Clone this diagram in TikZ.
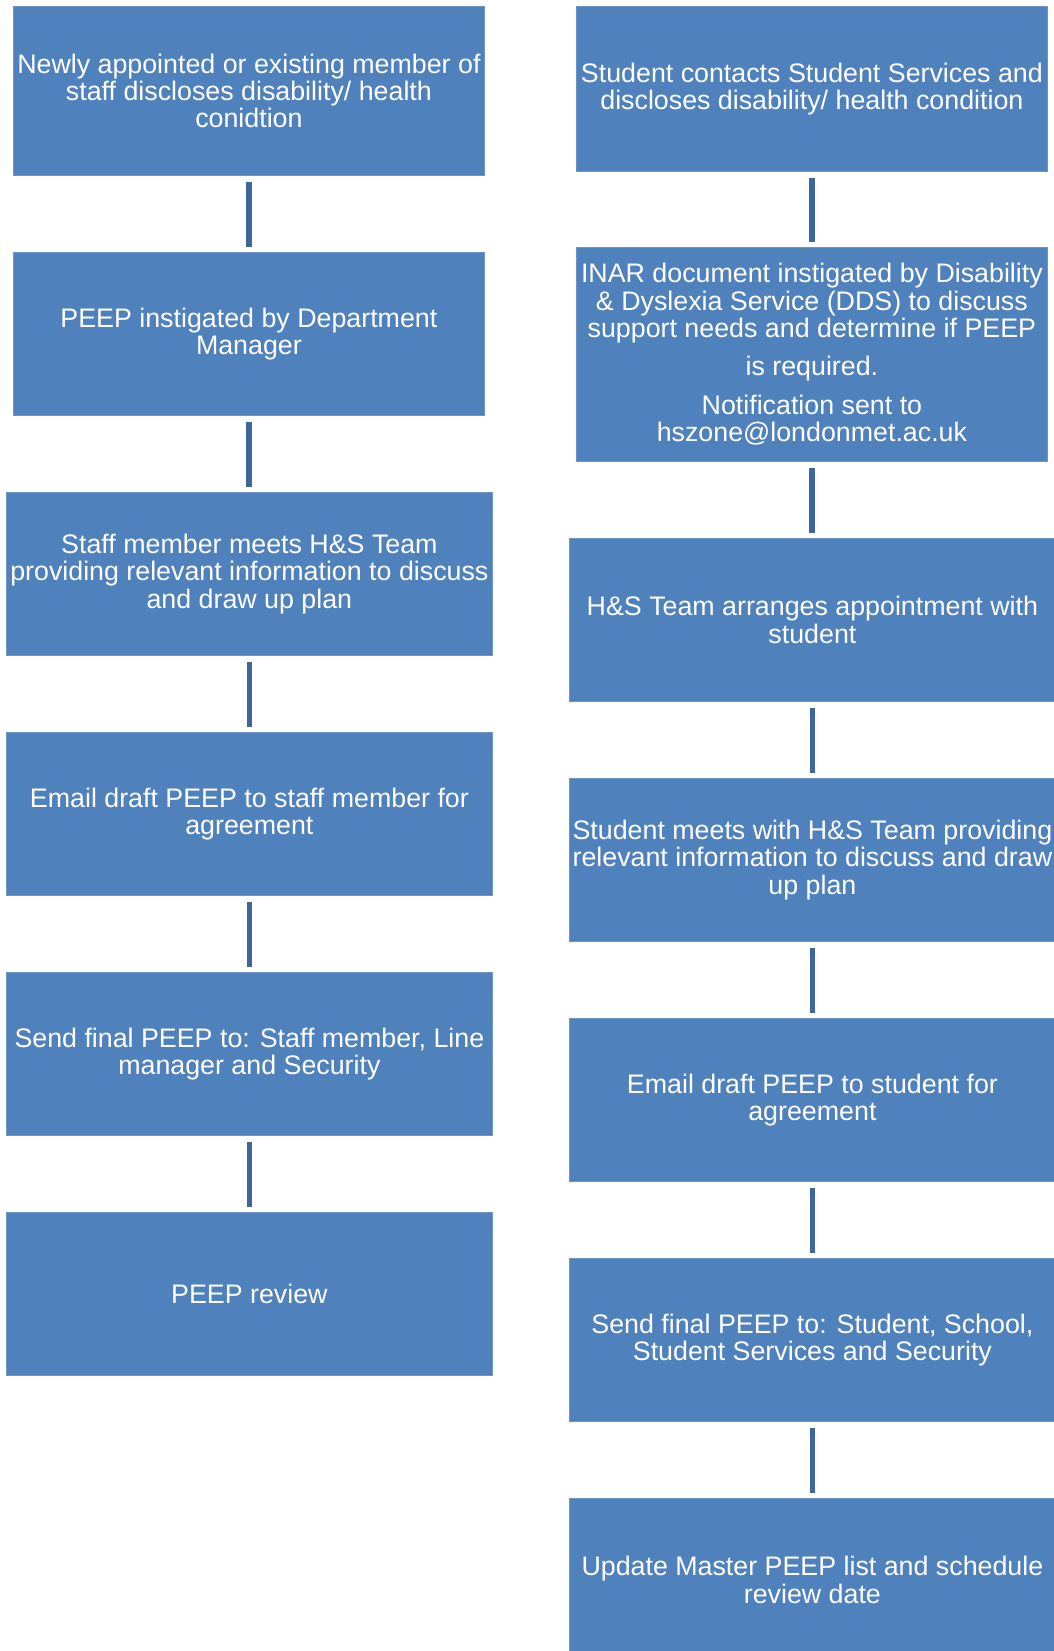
\documentclass[tikz,border=0pt]{standalone}
\usepackage{fontspec}
\setmainfont{Liberation Sans}
\definecolor{boxfill}{HTML}{4F81BD}
\definecolor{boxedge}{HTML}{6E93C6}
\definecolor{linkcol}{HTML}{3D679B}
\begin{document}
\begin{tikzpicture}[x=1pt,y=-1pt,
  flowbox/.style={draw=boxedge, line width=0.8pt, fill=boxfill, text=white, align=center,
    inner sep=0pt, anchor=north west,
    font=\fontsize{26.8}{27.4}\selectfont},
  link/.style={draw=linkcol, line width=5.5pt, shorten <=6pt, shorten >=5pt}]
\useasboundingbox (0,0) rectangle (1053,1651);
\fill[white] (0,0) rectangle (1053,1651);
% left column
\node[flowbox, minimum width=471pt, minimum height=169pt] (l1) at (13,6)
  {Newly appointed or existing member of\\ staff discloses disability/ health\\ conidtion};
\node[flowbox, minimum width=471pt, minimum height=163pt] (l2) at (13,252)
  {PEEP instigated by Department\\ Manager};
\node[flowbox, minimum width=486pt, minimum height=163pt] (l3) at (6,492)
  {Staff member meets H\&S Team\\ providing relevant information to discuss\\ and draw up plan};
\node[flowbox, minimum width=486pt, minimum height=163pt] (l4) at (6,732)
  {Email draft PEEP to staff member for\\ agreement};
\node[flowbox, minimum width=486pt, minimum height=163pt] (l5) at (6,972)
  {Send final PEEP to: Staff member, Line\\ manager and Security};
\node[flowbox, minimum width=486pt, minimum height=163pt] (l6) at (6,1212)
  {PEEP review};
% right column
\node[flowbox, minimum width=471pt, minimum height=165pt] (r1) at (576,6)
  {Student contacts Student Services and\\ discloses disability/ health condition};
\node[flowbox, minimum width=471pt, minimum height=214pt] (r2) at (576,247)
  {INAR document instigated by Disability\\ \& Dyslexia Service (DDS) to discuss\\ support needs and determine if PEEP\\[11pt] is required.\\[11pt] Notification sent to\\ hszone@londonmet.ac.uk};
\node[flowbox, minimum width=486pt, minimum height=163pt] (r3) at (569,538)
  {H\&S Team arranges appointment with\\ student};
\node[flowbox, minimum width=486pt, minimum height=163pt] (r4) at (569,778)
  {Student meets with H\&S Team providing\\ relevant information to discuss and draw\\ up plan};
\node[flowbox, minimum width=486pt, minimum height=163pt] (r5) at (569,1018)
  {Email draft PEEP to student for\\ agreement};
\node[flowbox, minimum width=486pt, minimum height=163pt] (r6) at (569,1258)
  {Send final PEEP to: Student, School,\\ Student Services and Security};
\node[flowbox, minimum width=486pt, minimum height=163pt] (r7) at (569,1498)
  {Update Master PEEP list and schedule\\ review date};
% connectors
\foreach \a/\b in {l1/l2,l2/l3,l3/l4,l4/l5,l5/l6,r1/r2,r2/r3,r3/r4,r4/r5,r5/r6,r6/r7}
  \draw[link] (\a.south) -- (\a.south |- \b.north);
\end{tikzpicture}
\end{document}
